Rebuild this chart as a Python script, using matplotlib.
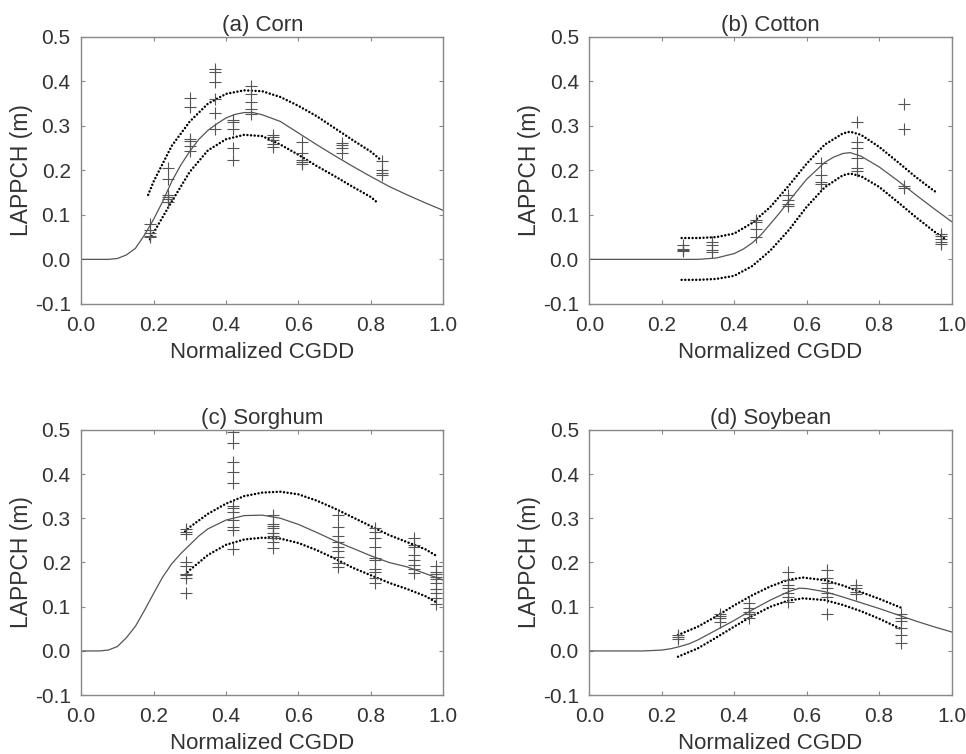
import numpy as np
import matplotlib
matplotlib.use("Agg")
import matplotlib.pyplot as plt

plt.rcParams['font.family'] = ['Liberation Sans', 'DejaVu Sans']

# ---- (a) Corn ----
corn_fit_x = [0.0, 0.05, 0.075, 0.10, 0.125, 0.15, 0.175, 0.20, 0.225, 0.25, 0.275,
              0.30, 0.325, 0.35, 0.375, 0.40, 0.425, 0.45, 0.475, 0.50, 0.55, 0.60,
              0.65, 0.70, 0.75, 0.80, 0.85, 0.90, 0.95, 1.00]
corn_fit_y = [0.0, 0.0, 0.0, 0.002, 0.01, 0.025, 0.055, 0.09, 0.13, 0.175, 0.212,
              0.243, 0.27, 0.29, 0.305, 0.318, 0.326, 0.33, 0.33, 0.325, 0.31, 0.284,
              0.258, 0.233, 0.209, 0.186, 0.164, 0.145, 0.127, 0.11]
corn_up_x = [0.185, 0.20, 0.25, 0.30, 0.35, 0.40, 0.45, 0.50, 0.55, 0.60, 0.65,
             0.70, 0.75, 0.80, 0.825]
corn_up_y = [0.145, 0.175, 0.255, 0.31, 0.35, 0.372, 0.38, 0.378, 0.365, 0.345,
             0.322, 0.295, 0.268, 0.242, 0.225]
corn_lo_x = [0.19, 0.20, 0.25, 0.30, 0.35, 0.40, 0.45, 0.50, 0.55, 0.60, 0.65,
             0.70, 0.75, 0.80, 0.82]
corn_lo_y = [0.045, 0.06, 0.13, 0.197, 0.245, 0.27, 0.28, 0.277, 0.258, 0.235,
             0.21, 0.187, 0.163, 0.14, 0.126]
corn_obs = {
    0.19: [0.08, 0.065, 0.06, 0.052, 0.05],
    0.24: [0.205, 0.18, 0.145, 0.14, 0.135, 0.13],
    0.30: [0.363, 0.342, 0.27, 0.265, 0.255, 0.243],
    0.37: [0.427, 0.422, 0.398, 0.36, 0.33, 0.293],
    0.42: [0.314, 0.308, 0.294, 0.25, 0.224],
    0.47: [0.39, 0.371, 0.354, 0.339, 0.326],
    0.53: [0.28, 0.275, 0.269, 0.26, 0.253],
    0.61: [0.264, 0.238, 0.224, 0.219, 0.215],
    0.72: [0.262, 0.256, 0.25, 0.238],
    0.83: [0.221, 0.2, 0.194, 0.189],
}

# ---- (b) Cotton ----
cotton_fit_x = [0.0, 0.30, 0.35, 0.40, 0.425, 0.45, 0.475, 0.50, 0.525, 0.55, 0.60,
                0.65, 0.675, 0.70, 0.72, 0.75, 0.80, 0.85, 0.90, 0.95, 1.00]
cotton_fit_y = [0.0, 0.0, 0.003, 0.013, 0.023, 0.037, 0.056, 0.08, 0.104, 0.13, 0.18,
                0.218, 0.23, 0.238, 0.24, 0.232, 0.208, 0.178, 0.146, 0.115, 0.085]
cotton_up_x = [0.255, 0.30, 0.35, 0.40, 0.45, 0.50, 0.55, 0.60, 0.65, 0.70, 0.72,
               0.75, 0.80, 0.85, 0.90, 0.95, 0.96]
cotton_up_y = [0.048, 0.048, 0.05, 0.058, 0.082, 0.118, 0.165, 0.215, 0.258, 0.283,
               0.287, 0.28, 0.253, 0.22, 0.186, 0.155, 0.15]
cotton_lo_x = [0.255, 0.30, 0.35, 0.40, 0.45, 0.50, 0.55, 0.60, 0.65, 0.70, 0.72,
               0.75, 0.80, 0.85, 0.90, 0.95, 0.98]
cotton_lo_y = [-0.046, -0.046, -0.044, -0.037, -0.015, 0.02, 0.065, 0.118, 0.162,
               0.189, 0.193, 0.187, 0.163, 0.13, 0.096, 0.064, 0.047]
cotton_obs = {
    0.26: [0.033, 0.023, 0.02, 0.018],
    0.34: [0.038, 0.032, 0.022, 0.017],
    0.46: [0.089, 0.084, 0.068, 0.051],
    0.55: [0.144, 0.134, 0.124, 0.119],
    0.64: [0.216, 0.19, 0.175, 0.17],
    0.74: [0.308, 0.264, 0.25, 0.228, 0.205, 0.199],
    0.87: [0.349, 0.294, 0.165, 0.16],
    0.97: [0.057, 0.052, 0.046, 0.04, 0.035],
}

# ---- (c) Sorghum ----
sorghum_fit_x = [0.0, 0.05, 0.075, 0.10, 0.125, 0.15, 0.175, 0.20, 0.225, 0.25, 0.275,
                 0.30, 0.325, 0.35, 0.40, 0.45, 0.50, 0.55, 0.60, 0.65, 0.70, 0.75,
                 0.80, 0.85, 0.90, 0.95, 1.00]
sorghum_fit_y = [0.0, 0.0, 0.002, 0.01, 0.03, 0.056, 0.092, 0.13, 0.167, 0.197, 0.22,
                 0.24, 0.26, 0.276, 0.296, 0.306, 0.307, 0.3, 0.286, 0.268, 0.249, 0.232,
                 0.215, 0.2, 0.19, 0.175, 0.16]
sorghum_up_x = [0.287, 0.30, 0.35, 0.40, 0.45, 0.50, 0.55, 0.60, 0.65, 0.70, 0.75,
                0.80, 0.85, 0.90, 0.95, 0.985]
sorghum_up_y = [0.27, 0.28, 0.31, 0.333, 0.35, 0.358, 0.36, 0.354, 0.34, 0.322,
                0.302, 0.282, 0.262, 0.246, 0.23, 0.213]
sorghum_lo_x = [0.287, 0.30, 0.35, 0.40, 0.45, 0.50, 0.55, 0.60, 0.65, 0.70, 0.75,
                0.80, 0.85, 0.90, 0.95, 0.985]
sorghum_lo_y = [0.172, 0.183, 0.217, 0.24, 0.252, 0.256, 0.254, 0.244, 0.228, 0.209,
                0.188, 0.171, 0.154, 0.14, 0.124, 0.108]
sorghum_obs = {
    0.29: [0.275, 0.27, 0.264, 0.2, 0.193, 0.175, 0.172, 0.166, 0.132],
    0.42: [0.494, 0.47, 0.427, 0.405, 0.379, 0.328, 0.323, 0.315, 0.296, 0.281,
           0.273, 0.23],
    0.53: [0.307, 0.288, 0.283, 0.277, 0.267, 0.261, 0.255, 0.247, 0.232],
    0.71: [0.307, 0.28, 0.259, 0.247, 0.236, 0.225, 0.213, 0.198, 0.19],
    0.81: [0.277, 0.27, 0.255, 0.236, 0.211, 0.206, 0.185, 0.179, 0.164, 0.153],
    0.92: [0.256, 0.24, 0.234, 0.218, 0.206, 0.194, 0.185, 0.177],
    0.98: [0.193, 0.179, 0.175, 0.168, 0.163, 0.153, 0.141, 0.131, 0.119, 0.106],
}

# ---- (d) Soybean ----
soy_fit_x = [0.0, 0.15, 0.20, 0.225, 0.25, 0.275, 0.30, 0.35, 0.40, 0.45, 0.50, 0.55,
             0.58, 0.60, 0.65, 0.70, 0.75, 0.80, 0.85, 0.90, 0.95, 1.00]
soy_fit_y = [0.0, 0.0, 0.002, 0.005, 0.01, 0.016, 0.025, 0.047, 0.069, 0.093, 0.115,
             0.134, 0.142, 0.141, 0.134, 0.122, 0.109, 0.096, 0.082, 0.068, 0.055, 0.043]
soy_up_x = [0.245, 0.30, 0.35, 0.40, 0.45, 0.50, 0.55, 0.59, 0.65, 0.70, 0.75,
            0.80, 0.86]
soy_up_y = [0.036, 0.055, 0.078, 0.103, 0.126, 0.146, 0.161, 0.166, 0.16, 0.148,
            0.133, 0.118, 0.098]
soy_lo_x = [0.245, 0.30, 0.35, 0.40, 0.45, 0.50, 0.55, 0.59, 0.65, 0.70, 0.75,
            0.80, 0.86]
soy_lo_y = [-0.013, 0.006, 0.03, 0.055, 0.079, 0.1, 0.114, 0.119, 0.115, 0.104,
            0.09, 0.073, 0.05]
soy_obs = {
    0.245: [0.036, 0.032, 0.028],
    0.36: [0.083, 0.079, 0.074, 0.066],
    0.44: [0.109, 0.096, 0.089, 0.083, 0.074],
    0.55: [0.178, 0.16, 0.149, 0.142, 0.132, 0.123, 0.111],
    0.655: [0.183, 0.164, 0.153, 0.142, 0.132, 0.123, 0.083],
    0.735: [0.15, 0.143, 0.134, 0.128],
    0.86: [0.083, 0.074, 0.068, 0.051, 0.036, 0.019],
}

panels = [
    ("(a) Corn", corn_fit_x, corn_fit_y, corn_up_x, corn_up_y, corn_lo_x, corn_lo_y, corn_obs),
    ("(b) Cotton", cotton_fit_x, cotton_fit_y, cotton_up_x, cotton_up_y, cotton_lo_x, cotton_lo_y, cotton_obs),
    ("(c) Sorghum", sorghum_fit_x, sorghum_fit_y, sorghum_up_x, sorghum_up_y, sorghum_lo_x, sorghum_lo_y, sorghum_obs),
    ("(d) Soybean", soy_fit_x, soy_fit_y, soy_up_x, soy_up_y, soy_lo_x, soy_lo_y, soy_obs),
]

# axes boxes in figure fraction [left, bottom, width, height]
boxes = [
    [0.084, 0.597, 0.375, 0.354],
    [0.610, 0.597, 0.375, 0.354],
    [0.084, 0.078, 0.375, 0.352],
    [0.610, 0.078, 0.375, 0.352],
]

text_col = '#333333'
dots = (0, (0.01, 1.45))
fig = plt.figure(figsize=(9.66, 7.54), dpi=100)

for box, (title, fx, fy, ux, uy, lx, ly, obs) in zip(boxes, panels):
    ax = fig.add_axes(box)
    ax.plot(fx, fy, color='#555555', lw=0.9)
    ax.plot(ux, uy, color='black', lw=1.8, linestyle=dots, dash_capstyle='round')
    ax.plot(lx, ly, color='black', lw=1.8, linestyle=dots, dash_capstyle='round')
    for x, ys in obs.items():
        ax.plot([x] * len(ys), ys, linestyle='none', marker='+', ms=8, mew=0.8,
                color='#555555')
    ax.set_xlim(0, 1)
    ax.set_ylim(-0.1, 0.5)
    ax.set_xticks(np.arange(0, 1.01, 0.2))
    ax.set_yticks(np.arange(-0.1, 0.51, 0.1))
    ax.set_xticklabels([f"{v:.1f}" for v in np.arange(0, 1.01, 0.2)])
    ax.set_yticklabels([f"{v:.1f}" for v in np.arange(-0.1, 0.51, 0.1)])
    ax.tick_params(direction='in', top=True, right=True, length=3, width=0.8,
                   color='#888888', labelsize=15, labelcolor=text_col)
    ax.tick_params(axis='x', pad=8.5)
    ax.tick_params(axis='y', pad=7.5)
    for s in ax.spines.values():
        s.set_color('#888888')
        s.set_linewidth(1.0)
    ax.set_title(title, fontsize=16, color=text_col, pad=4)
    ax.set_xlabel("Normalized CGDD", fontsize=16, color=text_col, labelpad=5)
    ax.set_ylabel("LAPPCH (m)", fontsize=16.5, color=text_col, labelpad=1.5)

fig.savefig("out.png", dpi=100)
